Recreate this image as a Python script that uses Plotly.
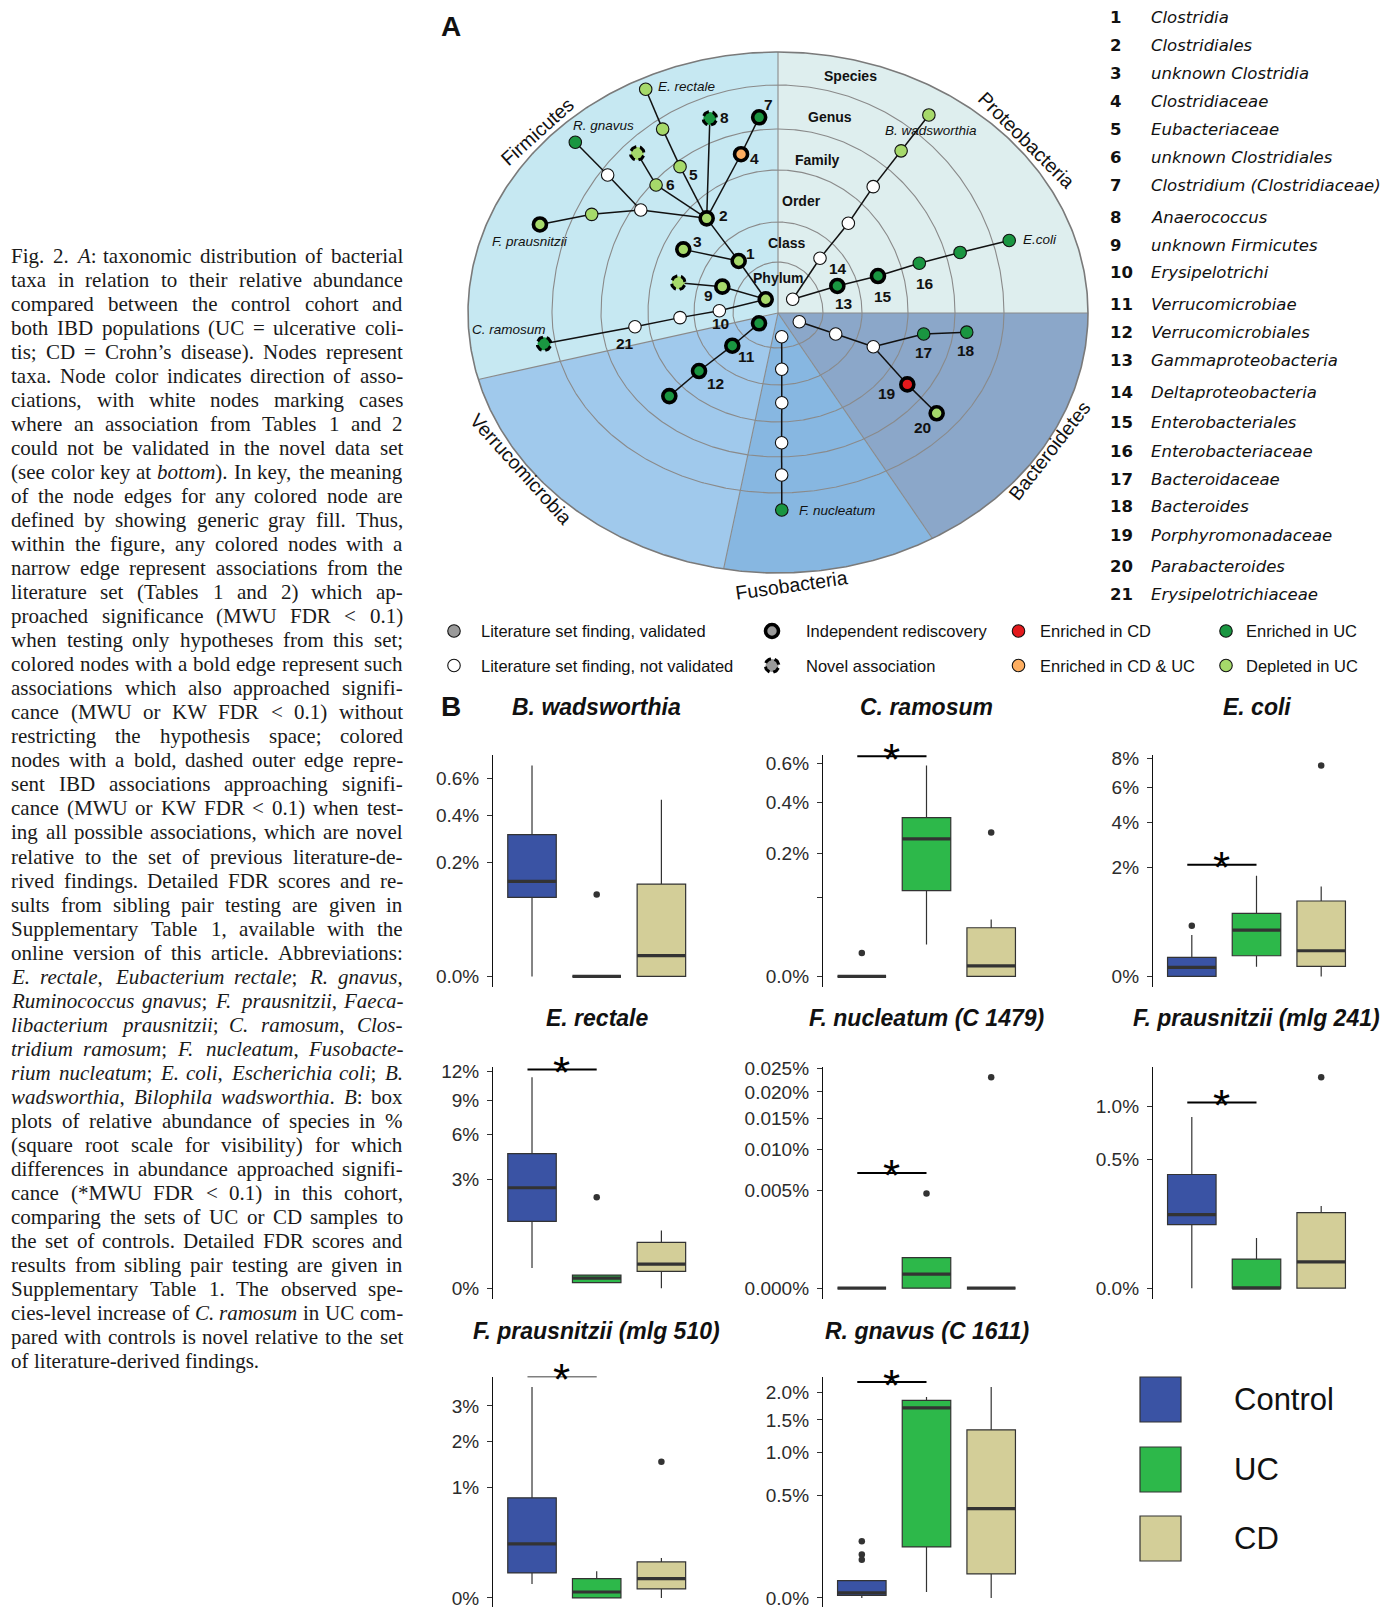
import re
import numpy as np
import plotly.graph_objects as go

W, H = 1396, 1607

# ============================ DATA : panel A ============================
phylum_names = ["Firmicutes", "Proteobacteria", "Bacteroidetes", "Fusobacteria", "Verrucomicrobia"]
phylum_from_deg = [90.0, 0.0, -55.6, -102.0, -167.5]
phylum_to_deg = [192.5, 90.0, 0.0, -55.6, -102.0]

level_names = ["Phylum", "Class", "Order", "Family", "Genus", "Species"]

node_names = [
    "Firmicutes", "Clostridia", "Clostridiales", "unknown Clostridia", "Clostridiaceae",
    "Eubacteriaceae", "unknown Clostridiales", "Clostridium", "Anaerococcus", "Eubacterium",
    "E. rectale", "novel genus", "family", "Ruminococcus", "R. gnavus",
    "Faecalibacterium", "F. prausnitzii", "unknown Firmicutes", "novel order", "Erysipelotrichi",
    "Erysipelotrichales", "Erysipelotrichiaceae", "C. ramosum", "Proteobacteria", "Gammaproteobacteria",
    "Enterobacteriales", "Enterobacteriaceae", "Escherichia", "E. coli", "Deltaproteobacteria",
    "Desulfovibrionales", "Desulfovibrionaceae", "Bilophila", "B. wadsworthia", "Bacteroidetes",
    "Bacteroidia", "Bacteroidales", "Bacteroidaceae", "Bacteroides", "Porphyromonadaceae",
    "Parabacteroides", "Fusobacteria", "Fusobacteriia", "Fusobacteriales", "Fusobacteriaceae",
    "Fusobacterium", "F. nucleatum", "Verrucomicrobia", "Verrucomicrobiae", "Verrucomicrobiales",
    "Verrucomicrobiaceae",
]
node_angle_deg = [
    131.9, 127.1, 127.0, 146.1, 103.1, 123.8, 133.6, 95.5, 109.3, 122.1,
    120.6, 131.4, 143.1, 141.0, 139.9, 152.1, 159.6, 154.7, 163.1, 177.8,
    182.7, 185.5, 187.5, 43.0, 24.5, 20.3, 19.4, 18.4, 17.4, 52.5,
    51.9, 53.0, 52.8, 52.7, -22.2, -20.0, -19.5, -8.2, -5.8, -28.9,
    -32.3, -81.1, -86.2, -87.6, -88.4, -88.7, -88.9, -151.5, -144.4, -143.7,
    -142.6,
]
node_radius = [
    18.4, 65.2, 118.5, 114.1, 163.0, 176.1, 176.8, 196.6, 206.2, 217.1,
    259.9, 212.8, 171.6, 219.2, 265.0, 210.8, 254.0, 61.6, 104.2, 58.7,
    98.1, 143.7, 236.0, 20.1, 65.2, 106.6, 149.8, 191.9, 242.3, 69.0,
    114.0, 158.2, 203.6, 249.0, 23.0, 61.4, 101.1, 147.2, 189.7, 147.7,
    187.7, 24.0, 56.4, 89.8, 129.8, 162.0, 197.0, 21.6, 56.2, 98.0,
    136.8,
]
node_parent = [
    -1, 0, 1, 1, 2, 2, 2, 4, 2, 5,
    9, 6, 2, 12, 13, 12, 15, 0, 17, 0,
    19, 20, 21, -1, 23, 24, 25, 26, 27, 23,
    29, 30, 31, 32, -1, 34, 35, 36, 37, 36,
    39, -1, 41, 42, 43, 44, 45, -1, 47, 48,
    49,
]
node_assoc = [
    "dep", "dep", "dep", "dep", "both", "dep", "dep", "uc", "uc", "dep",
    "dep", "dep", "none", "none", "uc", "dep", "dep", "dep", "dep", "none",
    "none", "none", "uc", "none", "uc", "uc", "uc", "uc", "uc", "none",
    "none", "none", "dep", "dep", "none", "none", "none", "uc", "uc", "cd",
    "dep", "none", "none", "none", "none", "none", "uc", "uc", "uc", "uc",
    "uc",
]
node_edge = [
    "bold", "bold", "bold", "bold", "bold", "thin", "thin", "bold", "dashed", "thin",
    "thin", "dashed", "thin", "thin", "thin", "thin", "bold", "bold", "dashed", "thin",
    "thin", "thin", "dashed", "thin", "bold", "bold", "thin", "thin", "thin", "thin",
    "thin", "thin", "thin", "thin", "thin", "thin", "thin", "thin", "thin", "bold",
    "bold", "thin", "thin", "thin", "thin", "thin", "thin", "bold", "bold", "bold",
    "bold",
]
node_number = {1: "1", 2: "2", 3: "3", 4: "4", 5: "5", 6: "6", 7: "7", 8: "8", 17: "9",
               19: "10", 48: "11", 49: "12", 24: "13", 29: "14", 25: "15", 26: "16",
               37: "17", 38: "18", 39: "19", 40: "20", 21: "21"}
species_label_nodes = {10: "E. rectale", 14: "R. gnavus", 16: "F. prausnitzii", 22: "C. ramosum",
                       33: "B. wadsworthia", 28: "E.coli", 46: "F. nucleatum"}

taxa_numbers = [str(i) for i in range(1, 22)]
taxa_names = [
    "Clostridia", "Clostridiales", "unknown Clostridia", "Clostridiaceae", "Eubacteriaceae",
    "unknown Clostridiales", "Clostridium (Clostridiaceae)", "Anaerococcus", "unknown Firmicutes",
    "Erysipelotrichi", "Verrucomicrobiae", "Verrucomicrobiales", "Gammaproteobacteria",
    "Deltaproteobacteria", "Enterobacteriales", "Enterobacteriaceae", "Bacteroidaceae",
    "Bacteroides", "Porphyromonadaceae", "Parabacteroides", "Erysipelotrichiaceae",
]

legend_a_labels = [
    ["Literature set finding, validated", "Independent rediscovery", "Enriched in CD", "Enriched in UC"],
    ["Literature set finding, not validated", "Novel association", "Enriched in CD & UC", "Depleted in UC"],
]
legend_a_kinds = [
    [("gray", "thin"), ("gray", "bold"), ("cd", "thin"), ("uc", "thin")],
    [("none", "thin"), ("gray", "dashed"), ("both", "thin"), ("dep", "thin")],
]

# ============================ DATA : panel B ============================
groups = ["Control", "UC", "CD"]
species_titles = ["B. wadsworthia", "C. ramosum", "E. coli", "E. rectale", "F. nucleatum (C 1479)",
                  "F. prausnitzii (mlg 241)", "F. prausnitzii (mlg 510)", "R. gnavus (C 1611)"]
# relative abundance in %, per group (Control, UC, CD)
box_low = [[0, 0, 0], [0, 0.0134, 0], [0, 0.0158, 0], [0.103, 0.008, 0],
           [0, 0, 0], [0, 0, 0], [0.016, 0, 0], [0, 0.0017, 0]]
box_q1 = [[0.096, 0, 0], [0, 0.0974, 0], [0, 0.072, 0.0168], [1.14, 0.008, 0.071],
          [0, 0, 0], [0.1224, 0, 0], [0.051, 0, 0.0066], [0.0003, 0.1234, 0.0273]]
box_med = [[0.139, 0, 0.0066], [0, 0.2495, 0.0015], [0.0136, 0.362, 0.111], [2.57, 0.0257, 0.148],
           [0, 0.000102, 0], [0.164, 0, 0.0211], [0.238, 0.0029, 0.0304], [0.0012, 1.712, 0.378]]
box_q3 = [[0.309, 0, 0.131], [0, 0.333, 0.0313], [0.0607, 0.668, 0.956], [4.62, 0.0435, 0.535],
          [0, 0.000487, 0], [0.392, 0.0257, 0.173], [0.816, 0.0304, 0.1057], [0.0142, 1.847, 1.339]]
box_high = [[0.683, 0, 0.479], [0, 0.587, 0.0429], [0.288, 1.706, 1.362], [11.34, 0.0435, 0.845],
            [0, 0.000487, 0], [0.888, 0.0763, 0.205], [3.62, 0.058, 0.13], [0.0142, 1.911, 2.106]]
box_outliers = [[[], [0.103], []], [[0.0073], [], [0.273]], [[0.432], [], [7.47]], [[], [2.11], []],
                [[], [0.004658], [0.0231]], [[], [], [1.35]], [[], [], [1.509]],
                [[0.152, 0.0889, 0.0695], [], []]]
signif_level = [None, 0.64, 2.1, 12.2, 0.0069, 1.045, 4.0, 2.207]
tick_values = [[0, 0.2, 0.4, 0.6], [0, 0.082, 0.2, 0.4, 0.6], [0, 2, 4, 6, 8], [0, 3, 6, 9, 12],
               [0, 0.005, 0.01, 0.015, 0.02, 0.025], [0, 0.5, 1.0], [0, 1, 2, 3], [0, 0.5, 1.0, 1.5, 2.0]]
tick_labels = [["0.0%", "0.2%", "0.4%", "0.6%"], ["0.0%", "", "0.2%", "0.4%", "0.6%"],
               ["0%", "2%", "4%", "6%", "8%"], ["0%", "3%", "6%", "9%", "12%"],
               ["0.000%", "0.005%", "0.010%", "0.015%", "0.020%", "0.025%"],
               ["0.0%", "0.5%", "1.0%"], ["0%", "1%", "2%", "3%"],
               ["0.0%", "0.5%", "1.0%", "1.5%", "2.0%"]]

caption_lines = [
    "Fig. 2. <i>A</i>: taxonomic distribution of bacterial",
    "taxa in relation to their relative abundance",
    "compared between the control cohort and",
    "both IBD populations (UC = ulcerative coli-",
    "tis; CD = Crohn\u2019s disease). Nodes represent",
    "taxa. Node color indicates direction of asso-",
    "ciations, with white nodes marking cases",
    "where an association from Tables 1 and 2",
    "could not be validated in the novel data set",
    "(see color key at <i>bottom</i>). In key, the meaning",
    "of the node edges for any colored node are",
    "defined by showing generic gray fill. Thus,",
    "within the figure, any colored nodes with a",
    "narrow edge represent associations from the",
    "literature set (Tables 1 and 2) which ap-",
    "proached significance (MWU FDR < 0.1)",
    "when testing only hypotheses from this set;",
    "colored nodes with a bold edge represent such",
    "associations which also approached signifi-",
    "cance (MWU or KW FDR < 0.1) without",
    "restricting the hypothesis space; colored",
    "nodes with a bold, dashed outer edge repre-",
    "sent IBD associations approaching signifi-",
    "cance (MWU or KW FDR < 0.1) when test-",
    "ing all possible associations, which are novel",
    "relative to the set of previous literature-de-",
    "rived findings. Detailed FDR scores and re-",
    "sults from sibling pair testing are given in",
    "Supplementary Table 1, available with the",
    "online version of this article. Abbreviations:",
    "<i>E. rectale</i>, <i>Eubacterium rectale</i>; <i>R. gnavus</i>,",
    "<i>Ruminococcus gnavus</i>; <i>F. prausnitzii</i>, <i>Faeca-</i>",
    "<i>libacterium prausnitzii</i>; <i>C. ramosum</i>, <i>Clos-</i>",
    "<i>tridium ramosum</i>; <i>F. nucleatum</i>, <i>Fusobacte-</i>",
    "<i>rium nucleatum</i>; <i>E. coli</i>, <i>Escherichia coli</i>; <i>B.</i>",
    "<i>wadsworthia</i>, <i>Bilophila wadsworthia</i>. <i>B</i>: box",
    "plots of relative abundance of species in %",
    "(square root scale for visibility) for which",
    "differences in abundance approached signifi-",
    "cance (*MWU FDR < 0.1) in this cohort,",
    "comparing the sets of UC or CD samples to",
    "the set of controls. Detailed FDR scores and",
    "results from sibling pair testing are given in",
    "Supplementary Table 1. The observed spe-",
    "cies-level increase of <i>C. ramosum</i> in UC com-",
    "pared with controls is novel relative to the set",
    "of literature-derived findings.",
]

# ============================ STYLE / GEOMETRY ============================
SANS = "Liberation Sans, Arial, Helvetica, sans-serif"
SERIF = "Liberation Serif, Times New Roman, serif"
DEJA = "DejaVu Sans, Verdana, sans-serif"
CX, CY = 778.0, 313.0                     # centre of panel A (px)
OUTER = (310.0, 261.0, 260.0)             # horizontal, upper, lower semi-axes
RINGS_H = [45, 84, 130, 177, 226]
RINGS_UP = [51, 91, 143, 184, 228]
RINGS_LO = [35, 72, 109, 144, 180]
SECTOR_COL = {"Firmicutes": "#c6e8f2", "Proteobacteria": "#deeeee", "Bacteroidetes": "#8ba7c9",
              "Fusobacteria": "#87b7e1", "Verrucomicrobia": "#a0c9ec"}
NODE_COL = {"none": "#ffffff", "dep": "#a6d96a", "uc": "#1a9641", "cd": "#e3191c",
            "both": "#fdae61", "gray": "#9a9a9a"}
BOX_COL = {"Control": "#3a53a4", "UC": "#2db84a", "CD": "#d3ce98"}

fig = go.Figure()
ann = []
shapes = []


def A(x, y, text, size, family=SANS, color="#111", xanchor="center", yanchor="middle", angle=0, **kw):
    d = dict(x=x, y=y, xref="x", yref="y", text=text, showarrow=False, xanchor=xanchor,
             yanchor=yanchor, textangle=angle, borderpad=0, borderwidth=0,
             font=dict(size=size, family=family, color=color))
    d.update(kw)
    ann.append(d)


def ell_r(phi, h, up, lo):
    v = np.where(np.sin(phi) >= 0, up, lo)
    return 1.0 / np.sqrt((np.cos(phi) / h) ** 2 + (np.sin(phi) / v) ** 2)


def ell_pts(phi, h, up, lo):
    r = ell_r(phi, h, up, lo)
    return CX + r * np.cos(phi), CY - r * np.sin(phi)


# ---------- sectors ----------
for name, a0, a1 in zip(phylum_names, phylum_from_deg, phylum_to_deg):
    phi = np.radians(np.linspace(a0, a1, 120))
    ex, ey = ell_pts(phi, *OUTER)
    fig.add_trace(go.Scatter(x=np.r_[CX, ex, CX], y=np.r_[CY, ey, CY], mode="lines", fill="toself",
                             fillcolor=SECTOR_COL[name], line=dict(width=0), hoverinfo="skip",
                             xaxis="x", yaxis="y"))

# ---------- rings ----------
phi_all = np.radians(np.linspace(0, 360, 721))
for h, up, lo in zip(RINGS_H, RINGS_UP, RINGS_LO):
    rx, ry = ell_pts(phi_all, h, up, lo)
    fig.add_trace(go.Scatter(x=rx, y=ry, mode="lines", line=dict(color="#8a8a8a", width=1.1),
                             hoverinfo="skip", xaxis="x", yaxis="y"))
bx, by = [], []
for a in phylum_from_deg:
    px, py = ell_pts(np.radians(np.array([a])), *OUTER)
    bx += [CX, px[0], None]
    by += [CY, py[0], None]
fig.add_trace(go.Scatter(x=bx, y=by, mode="lines", line=dict(color="#8a8a8a", width=1.1),
                         hoverinfo="skip", xaxis="x", yaxis="y"))
ox, oy = ell_pts(phi_all, *OUTER)
fig.add_trace(go.Scatter(x=ox, y=oy, mode="lines", line=dict(color="#7a7a7a", width=1.6),
                         hoverinfo="skip", xaxis="x", yaxis="y"))

# ---------- tree ----------
ang = np.radians(np.array(node_angle_deg))
rad = np.array(node_radius)
NX = CX + rad * np.cos(ang)
NY = CY - rad * np.sin(ang)
ex, ey = [], []
for i, p in enumerate(node_parent):
    if p >= 0:
        ex += [NX[p], NX[i], None]
        ey += [NY[p], NY[i], None]
fig.add_trace(go.Scatter(x=ex, y=ey, mode="lines", line=dict(color="#111", width=1.5),
                         hoverinfo="skip", xaxis="x", yaxis="y"))


def draw_nodes(xs, ys, assocs, edges):
    for kind in ["thin", "bold", "dashed"]:
        idx = [i for i, e in enumerate(edges) if e == kind]
        if not idx:
            continue
        cols = [NODE_COL[assocs[i]] for i in idx]
        if kind == "thin":
            mk = dict(size=12.5, color=cols, line=dict(color="#111", width=1.1))
        elif kind == "bold":
            mk = dict(size=13, color=cols, line=dict(color="#000", width=3.6))
        else:
            mk = dict(size=13, color=cols, line=dict(width=0))
        fig.add_trace(go.Scatter(x=[xs[i] for i in idx], y=[ys[i] for i in idx], mode="markers",
                                 marker=mk, hoverinfo="skip", xaxis="x", yaxis="y"))
        if kind == "dashed":
            t = np.linspace(0, 2 * np.pi, 61)
            dx, dy = [], []
            for i in idx:
                dx += list(xs[i] + 6.8 * np.cos(t + 0.35)) + [None]
                dy += list(ys[i] + 6.8 * np.sin(t + 0.35)) + [None]
            fig.add_trace(go.Scatter(x=dx, y=dy, mode="lines",
                                     line=dict(color="#000", width=3.0, dash="7px,3.7px"),
                                     hoverinfo="skip", xaxis="x", yaxis="y"))


draw_nodes(list(NX), list(NY), node_assoc, node_edge)

NUM_POS = {"1": (750, 253), "2": (723, 215), "3": (697, 241.5), "4": (754.5, 158), "5": (693, 174.5),
           "6": (670, 184), "7": (768.5, 104), "8": (724.5, 117.5), "9": (708.5, 295), "10": (720.5, 323.5),
           "11": (746, 356), "12": (715.5, 383.5), "13": (844, 303.5), "14": (837.5, 268.5),
           "15": (882.5, 296), "16": (925, 283), "17": (923.5, 352), "18": (966, 350),
           "19": (887, 393.5), "20": (922, 427), "21": (625, 343)}
for i, num in node_number.items():
    x, y = NUM_POS[num]
    A(x, y, "<b>%s</b>" % num, 15.5)

SPEC_POS = {"E. rectale": (658, 86.5), "R. gnavus": (572.5, 125), "F. prausnitzii": (491.5, 241),
            "C. ramosum": (472, 329), "B. wadsworthia": (885, 130), "E.coli": (1023, 239.5),
            "F. nucleatum": (799, 510)}
for i, s in species_label_nodes.items():
    x, y = SPEC_POS[s]
    A(x, y, "<i>%s</i>" % s, 13.5, xanchor="left")

LEVEL_POS = [(778.5, 277.5), (787, 242.5), (801, 200.5), (817, 160), (830, 116.5), (850, 75.5)]
for name, (x, y) in zip(level_names, LEVEL_POS):
    A(x, y, "<b>%s</b>" % name, 14)

PHYLUM_LAB = {"Firmicutes": (536.5, 131.5, -42), "Proteobacteria": (1026.5, 140, 45),
              "Verrucomicrobia": (521.5, 468.5, 48), "Fusobacteria": (791.5, 585, -8),
              "Bacteroidetes": (1049, 451, -52)}
for name in phylum_names:
    x, y, a = PHYLUM_LAB[name]
    A(x, y, name, 19.5, angle=a)

A(451, 26, "<b>A</b>", 28)
A(451, 706, "<b>B</b>", 28)

TAXA_Y = [17.5, 45, 73, 101.5, 129, 157, 185.5, 217, 245, 272.5, 304.5, 332, 360, 392.5, 422,
          451, 479, 506.5, 535, 566, 594.5]
for num, name, y in zip(taxa_numbers, taxa_names, TAXA_Y):
    A(1110, y, "<b>%s</b>" % num, 16.5, family=DEJA, xanchor="left")
    A(1151, y, "<i>%s</i>" % name, 16.5, family=DEJA, xanchor="left")

LEG_X = [454, 772, 1018.5, 1226]
LEG_TX = [481, 806, 1040, 1246]
LEG_Y = [631, 665.5]
for r in range(2):
    xs = [LEG_X[c] for c in range(4)]
    ys = [LEG_Y[r]] * 4
    draw_nodes(xs, ys, [k[0] for k in legend_a_kinds[r]], [k[1] for k in legend_a_kinds[r]])
    for c in range(4):
        A(LEG_TX[c], LEG_Y[r], legend_a_labels[r][c].replace("&", "&amp;"), 16.5, xanchor="left")

# ============================ caption (justified) ============================
ROMAN = dict(zip("abcdefghijklmnopqrstuvwxyz",
                 [.444, .5, .444, .5, .444, .333, .5, .5, .278, .278, .5, .278, .778, .5, .5, .5, .5,
                  .333, .389, .278, .5, .5, .722, .5, .5, .444]))
ROMAN.update(zip("ABCDEFGHIJKLMNOPQRSTUVWXYZ",
                 [.722, .667, .667, .722, .611, .556, .722, .722, .333, .389, .722, .611, .889, .722,
                  .722, .556, .722, .667, .556, .611, .722, .722, .944, .722, .722, .611]))
ITAL = dict(zip("abcdefghijklmnopqrstuvwxyz",
                [.5, .5, .444, .5, .444, .278, .5, .5, .278, .278, .444, .278, .722, .5, .5, .5, .5,
                 .389, .389, .278, .5, .444, .667, .444, .444, .389]))
ITAL.update(zip("ABCDEFGHIJKLMNOPQRSTUVWXYZ",
                [.611, .611, .667, .722, .611, .611, .722, .722, .333, .444, .667, .556, .833, .667,
                 .722, .611, .722, .611, .5, .556, .722, .611, .833, .611, .556, .556]))
for d, extra in ((ROMAN, {":": .278, ";": .278, "=": .564, "<": .564}),
                 (ITAL, {":": .333, ";": .333, "=": .675, "<": .675})):
    d.update({c: .5 for c in "0123456789"})
    d.update({".": .25, ",": .25, "-": .333, "(": .333, ")": .333, "%": .833, "*": .5,
              "\u2019": .333, "'": .18})
    d.update(extra)

CAP_FS = 21.0
CAP_L, CAP_R = 11.3, 402.8
CAP_Y0, CAP_DY = 256.0, 24.02


def parse_words(line):
    parts = re.split(r"(<i>|</i>)", line)
    ital = False
    words = [[]]
    for p in parts:
        if p == "<i>":
            ital = True
            continue
        if p == "</i>":
            ital = False
            continue
        for j, c in enumerate(p.split(" ")):
            if j > 0:
                words.append([])
            if c:
                words[-1].append((c, ital))
    return [w for w in words if w]


def esc(s):
    return s.replace("&", "&amp;").replace("<", "&lt;").replace(">", "&gt;")


for li, line in enumerate(caption_lines):
    words = parse_words(line)
    widths = [sum((ITAL if it else ROMAN).get(ch, .5) for t, it in w for ch in t) * CAP_FS for w in words]
    justified = li < len(caption_lines) - 1 and len(words) > 1
    gap = (CAP_R - CAP_L - sum(widths)) / (len(words) - 1) if justified else 0.25 * CAP_FS
    x = CAP_L
    y = CAP_Y0 + li * CAP_DY
    for k, (w, wd) in enumerate(zip(words, widths)):
        html = "".join(("<i>%s</i>" % esc(t)) if it else esc(t) for t, it in w)
        if justified and k == len(words) - 1:
            A(CAP_R, y, html, CAP_FS, family=SERIF, color="#1a1a1a", xanchor="right")
        else:
            A(x, y, html, CAP_FS, family=SERIF, color="#1a1a1a", xanchor="left")
        x += wd + gap

# ============================ panel B: box plots ============================
COL_X = [493.2, 823.0, 1153.0]
ROW_TOP = [755.0, 1066.7, 1376.5]
PW, PH = 207.0, 232.0
layout_axes = {}
for p in range(8):
    n = p + 2
    r, c = divmod(p, 3)
    xl, yt = COL_X[c], ROW_TOP[r]
    allv = np.sqrt(np.array(sum([box_high[p], sum(box_outliers[p], [])], [])))
    hi_v = allv.max()
    lo, hi = -0.05 * hi_v, 1.05 * hi_v
    k = PH / (hi - lo)
    yb = yt + PH
    if yb > H:
        lo += (yb - H) / k
        yb = H
    layout_axes["xaxis%d" % n] = dict(domain=[xl / W, (xl + PW) / W], range=[0.4, 3.6], visible=False,
                                      anchor="y%d" % n, fixedrange=True, automargin=False)
    layout_axes["yaxis%d" % n] = dict(domain=[1 - yb / H, 1 - yt / H], range=[lo, hi], anchor="x%d" % n,
                                      showline=True, linecolor="#111", linewidth=1.3, ticks="outside",
                                      ticklen=5, tickwidth=1, tickcolor="#333", showgrid=False,
                                      zeroline=False, tickvals=list(np.sqrt(tick_values[p])),
                                      ticktext=tick_labels[p], ticklabelstandoff=4,
                                      ticklabeloverflow="allow", automargin=False,
                                      tickfont=dict(family=SANS, size=19, color="#2b2b2b"),
                                      fixedrange=True)
    xa, ya = "x%d" % n, "y%d" % n
    mx, my = [], []
    for g, grp in enumerate(groups):
        pos = g + 1
        fig.add_trace(go.Box(x=[pos], q1=[np.sqrt(box_q1[p][g])], median=[np.sqrt(box_med[p][g])],
                             q3=[np.sqrt(box_q3[p][g])], lowerfence=[np.sqrt(box_low[p][g])],
                             upperfence=[np.sqrt(box_high[p][g])], width=0.75, whiskerwidth=0,
                             fillcolor=BOX_COL[grp], line=dict(color="#333", width=1.2),
                             boxpoints=False, hoverinfo="skip", xaxis=xa, yaxis=ya))
        mx += [pos - 0.375, pos + 0.375, None]
        my += [np.sqrt(box_med[p][g])] * 2 + [None]
    fig.add_trace(go.Scatter(x=mx, y=my, mode="lines", line=dict(color="#333", width=3.2),
                             hoverinfo="skip", xaxis=xa, yaxis=ya))
    ox_, oy_ = [], []
    for g in range(3):
        for v in box_outliers[p][g]:
            ox_.append(g + 1)
            oy_.append(np.sqrt(v))
    if ox_:
        fig.add_trace(go.Scatter(x=ox_, y=oy_, mode="markers", marker=dict(color="#333", size=6.5),
                                 hoverinfo="skip", xaxis=xa, yaxis=ya))
    if signif_level[p] is not None:
        sy = np.sqrt(signif_level[p])
        fig.add_trace(go.Scatter(x=[0.93, 2.0], y=[sy, sy], mode="lines", line=dict(color="#000", width=2),
                                 cliponaxis=False, hoverinfo="skip", xaxis=xa, yaxis=ya))
        star_px = yt + (hi - sy) * k
        star_x = xl + (1.46 - 0.4) / 3.2 * PW
        A(star_x, star_px, "*", 44, color="#000", yshift=-3)
    A(xl + PW / 2, ROW_TOP[r] - 48.5 + (2.5 if r == 2 else 0), "<b><i>%s</i></b>" % species_titles[p], 23)

LEGB_Y = [1399.5, 1469.5, 1538.5]
for grp, y in zip(groups, LEGB_Y):
    shapes.append(dict(type="rect", xref="x", yref="y", x0=1140, x1=1181, y0=y - 22.5, y1=y + 22.5,
                       fillcolor=BOX_COL[grp], line=dict(color="#333", width=1.2)))
    A(1234, y, grp, 31, xanchor="left")

fig.update_layout(
    template="none",
    width=W, height=H, autosize=False,
    margin=dict(l=0, r=0, t=0, b=0, pad=0, autoexpand=False),
    paper_bgcolor="white", plot_bgcolor="rgba(0,0,0,0)", showlegend=False,
    xaxis=dict(domain=[0, 1], range=[0, W], visible=False, fixedrange=True, automargin=False),
    yaxis=dict(domain=[0, 1], range=[H, 0], visible=False, fixedrange=True, automargin=False),
    annotations=ann, shapes=shapes, **layout_axes,
)
fig.write_html("out.html", config={"displayModeBar": False},
               post_script="document.body.style.margin='0px';")
